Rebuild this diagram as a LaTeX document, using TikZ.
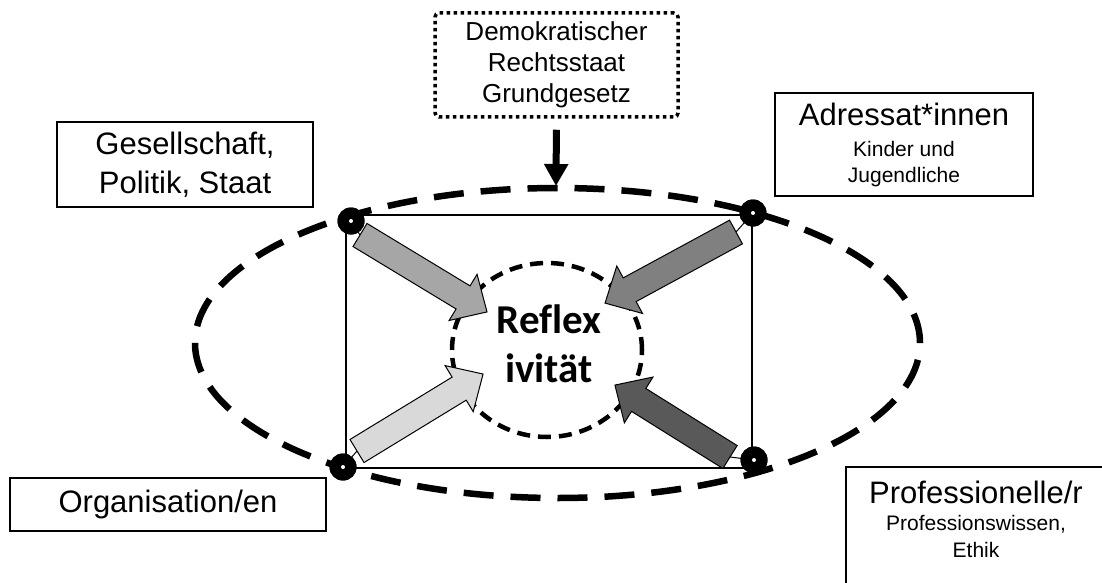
\documentclass[tikz,border=0pt]{standalone}
\usepackage{fontspec}
\setmainfont{Liberation Sans}
\newfontfamily\carlito[Ligatures={NoCommon}]{Carlito}
\usetikzlibrary{arrows.meta,calc}
\definecolor{pfeilA}{HTML}{A6A6A6}
\definecolor{pfeilB}{HTML}{808080}
\definecolor{pfeilC}{HTML}{D9D9D9}
\definecolor{pfeilD}{HTML}{595959}
\tikzset{
	kasten/.style={draw=black,line width=2.5pt,inner sep=0pt,align=center},
	gross/.style={font=\fontsize{31}{39}\selectfont},
	klein/.style={font=\fontsize{21}{26}\selectfont},
	punkt/.style={circle,fill=black,minimum size=27pt,inner sep=0pt,
		path picture={\fill[white] (path picture bounding box.center) circle (2pt);}},
	pfeil/.pic={\filldraw[pic actions] (0,-13.5) -- ({#1-28},-13.5) -- ({#1-28},-27) -- (#1,0) -- ({#1-28},27) -- ({#1-28},13.5) -- (0,13.5) -- cycle;}
}
\begin{document}
\begin{tikzpicture}[x=1pt,y=1pt]
		\useasboundingbox (0,0) rectangle (1102,-583);
		\coordinate(M) at (557.5,-343);
		\coordinate(oben) at (556,-186);
		\coordinate(f1) at (360,-235);
		\coordinate(f2) at (736,-232);
		\coordinate(f3) at (357,-451);
		\coordinate(f4) at (730,-457);
		
		\draw[line width=6.5pt,dash pattern=on 30pt off 17pt] (M) ellipse [x radius=362.5, y radius=155];
		\draw[line width=2.5pt] (346,-215) rectangle (752,-468);
		\draw[line width=4.5pt,dash pattern=on 13pt off 8pt] (547,-350) ellipse [x radius=95, y radius=87];
		
		\node[punkt] (e1) at (351,-221) {};
		\node[punkt] (e2) at (753,-213) {};
		\node[punkt] (e3) at (343,-467) {};
		\node[punkt] (e4) at (754,-460) {};
		\draw[line width=1pt] (e1.center) -- (f1) (e2.center) -- (f2) (e3.center) -- (f3) (e4.center) -- (f4);
		\pic[fill=pfeilA,draw=black,line width=1pt,rotate=-31.2] at (f1) {pfeil=148.5};
		\pic[fill=pfeilB,draw=black,line width=1pt,rotate=208.5] at (f2) {pfeil=149};
		\pic[fill=pfeilC,draw=black,line width=1pt,rotate=31.4] at (f3) {pfeil=147.7};
		\pic[fill=pfeilD,draw=black,line width=1pt,rotate=148] at (f4) {pfeil=135.7};
		\node[punkt] at (e1) {};
		\node[punkt] at (e2) {};
		\node[punkt] at (e3) {};
		\node[punkt] at (e4) {};
		
		\node[align=center,inner sep=0pt,font=\carlito\bfseries\fontsize{41}{49}\selectfont] (refl) at (549,-343.5) {Reflex\\ivität};
		
		\node[kasten,gross,minimum width=256pt,minimum height=85pt] (ges) at (185,-164.5) {Gesellschaft,\\Politik, Staat};
		\node[kasten,klein,minimum width=258pt,minimum height=103pt] (adr) at (904,-144.5) {{\fontsize{31}{31}\selectfont Adressat*innen}\\[5pt]Kinder und\\Jugendliche};
		\node[kasten,gross,minimum width=316pt,minimum height=53pt] (org) at (168,-504.5) {Organisation/en};
		\draw[line width=2.5pt] (846,-467) rectangle (1120,-600);
		\node[align=center,inner sep=0pt,font=\fontsize{21}{27}\selectfont,anchor=north] (prof) at (976,-481) {{\fontsize{31}{31}\selectfont Professionelle/r}\\Professionswissen,\\Ethik};
		
		\node[kasten,line width=3.5pt,dash pattern=on 3.5pt off 3.5pt,rounded corners=4pt,font=\fontsize{26}{31}\selectfont,minimum width=243pt,minimum height=104pt] (demo) at (556.5,-65) {Demokratischer\\Rechtsstaat\\Grundgesetz};
		\draw[line width=7pt,-{Triangle[width=23pt,length=22pt]},shorten <=11pt] (demo.south) -- (oben);
	\end{tikzpicture}
\end{document}
